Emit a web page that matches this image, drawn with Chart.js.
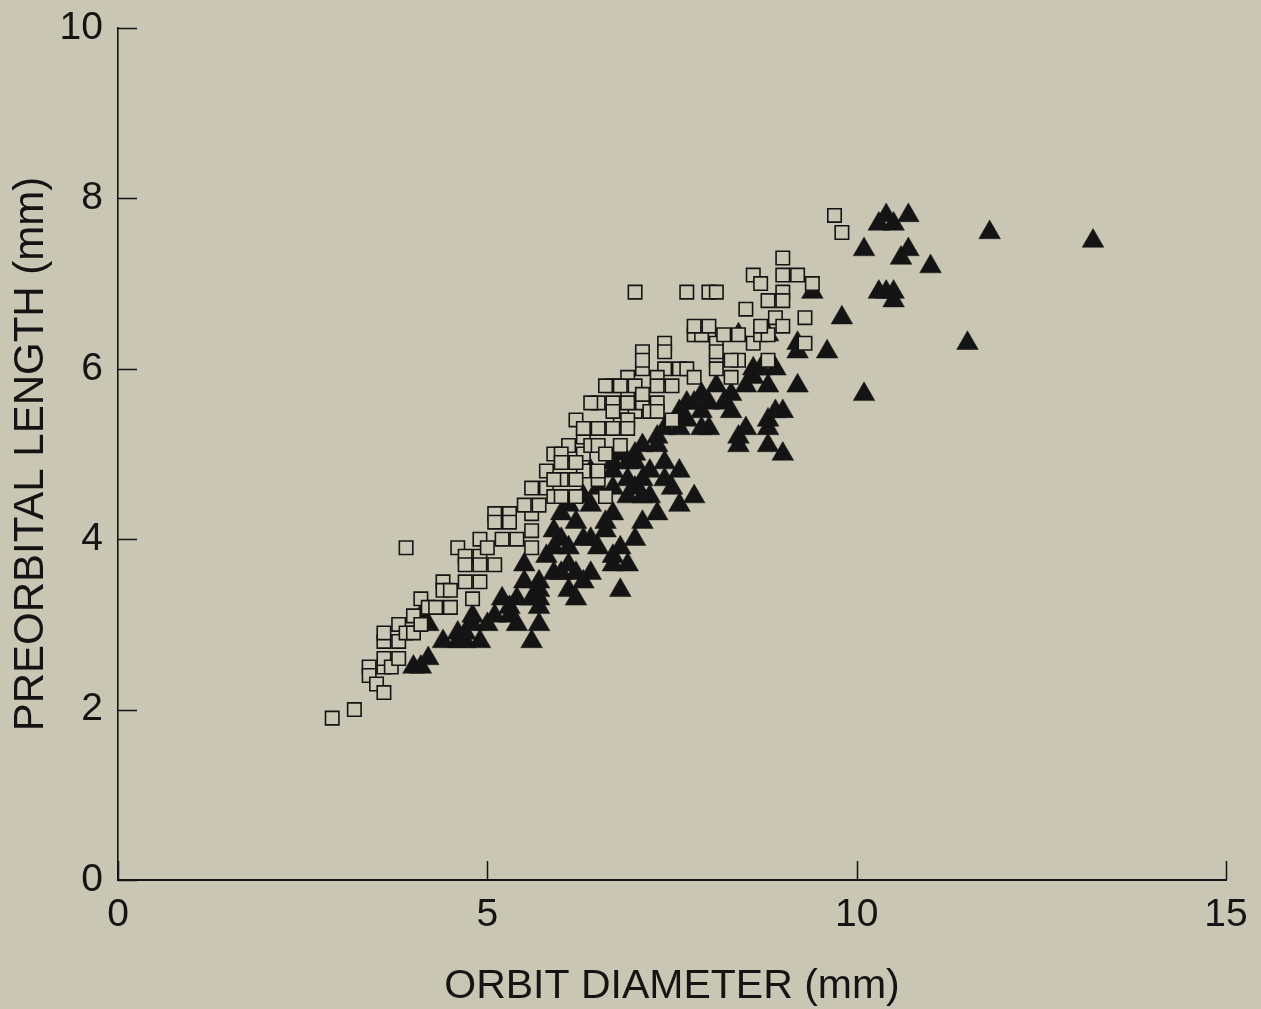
<!DOCTYPE html>
<html><head><meta charset="utf-8">
<script src="https://cdn.jsdelivr.net/npm/chart.js@4.4.1/dist/chart.umd.min.js"></script>
<style>
html,body{margin:0;padding:0;background:#c9c6b3;}
#wrap{position:relative;width:1261px;height:1009px;}
</style></head><body>
<div id="wrap"><canvas id="c" width="1261" height="1009"></canvas></div>
<script>
const xTicks = [0, 5, 10, 15];
const yTicks = [0, 2, 4, 6, 8, 10];
const xTitle = 'ORBIT DIAMETER (mm)';
const yTitle = 'PREORBITAL LENGTH (mm)';

// open squares
const squareX = [2.9,3.2,3.4,3.4,3.5,3.6,3.6,3.6,3.6,3.6,3.7,3.8,3.8,3.8,3.9,3.9,4.0,4.0,4.1,4.1,4.2,4.3,4.4,4.4,4.5,4.5,4.6,4.7,4.7,4.7,4.8,4.9,4.9,4.9,4.9,5.0,5.1,5.1,5.1,5.2,5.3,5.3,5.4,5.6,5.6,5.6,5.6,5.8,5.9,5.8,6.0,5.9,6.1,6.1,6.2,6.3,6.3,6.3,6.5,6.6,6.5,6.7,6.7,6.8,6.4,6.6,6.8,7.0,7.1,6.9,7.1,7.1,7.4,7.4,7.4,7.8,8.0,8.1,8.1,8.1,8.4,8.6,8.8,7.6,7.7,7.8,6.9,7.3,7.0,7.1,7.3,7.5,7.3,6.9,6.7,6.9,7.2,7.3,7.5,6.3,6.5,6.7,6.9,6.5,6.6,6.0,6.0,6.2,6.5,5.9,6.2,6.0,6.2,8.7,8.8,8.2,7.9,7.0,7.7,8.0,8.1,9.0,8.6,8.7,9.0,9.2,9.4,9.0,8.8,9.0,8.5,8.9,9.3,8.7,9.0,7.8,8.0,8.4,8.1,8.3,9.3,7.1,8.3,9.7,9.8,6.6,6.8,6.4,5.5,5.7];
const squareY = [1.9,2.0,2.5,2.4,2.3,2.2,2.5,2.6,2.8,2.9,2.5,2.6,3.0,2.8,2.9,3.9,2.9,3.1,3.0,3.3,3.2,3.2,3.5,3.4,3.4,3.2,3.9,3.8,3.5,3.7,3.3,4.0,3.8,3.7,3.5,3.9,4.3,4.2,3.7,4.0,4.3,4.2,4.0,4.3,4.1,3.9,4.6,4.6,4.5,4.8,4.7,5.0,5.1,4.9,5.4,5.2,5.0,4.8,4.7,4.5,5.6,5.6,5.8,5.4,5.1,5.3,5.1,5.5,5.6,5.7,6.2,6.0,6.3,6.2,6.0,6.4,6.4,6.3,6.1,6.0,6.1,6.3,6.1,6.0,6.0,5.9,5.9,5.9,5.8,5.7,5.8,5.8,5.6,5.6,5.5,5.4,5.5,5.5,5.4,5.3,5.3,5.3,5.3,5.1,5.0,5.0,4.9,4.9,4.8,4.7,4.7,4.5,4.5,6.4,6.4,6.4,6.4,6.9,6.9,6.9,6.9,7.3,7.1,7.0,7.1,7.1,7.0,6.9,6.8,6.8,6.7,6.6,6.6,6.5,6.5,6.5,6.5,6.4,6.2,6.1,6.3,6.1,5.9,7.8,7.6,5.8,5.8,5.6,4.4,4.4];

// filled triangles
const triangleX = [10.4,10.7,10.3,10.5,11.8,13.2,10.1,10.7,10.6,11.0,10.3,10.4,10.5,10.5,9.4,9.8,11.5,9.2,9.2,9.6,9.2,10.1,9.0,8.4,8.8,8.9,8.6,8.8,8.6,8.5,8.3,7.9,7.8,8.1,8.8,8.3,8.5,8.8,7.9,7.7,8.0,7.4,7.3,8.7,8.9,9.0,8.8,8.4,8.4,8.2,8.0,7.7,7.6,7.6,7.9,7.3,7.1,7.0,7.4,7.2,7.6,7.4,7.5,7.8,7.6,7.2,7.3,7.1,7.1,7.0,6.9,6.7,6.6,6.8,6.7,6.2,6.0,6.3,6.5,6.4,6.1,5.9,6.7,6.9,6.9,6.4,6.5,6.1,6.3,7.0,7.1,7.0,6.7,6.6,6.4,6.7,6.9,6.8,6.2,6.1,6.3,6.0,5.9,5.9,6.1,5.7,5.7,5.5,5.4,5.3,5.1,5.7,5.7,4.8,4.0,4.1,4.2,4.4,4.6,4.7,4.9,4.1,4.2,4.6,4.7,4.8,5.0,5.4,5.6,5.3,5.6,5.7,6.2,6.8,6.7,6.0,6.4,5.2,5.5,5.8];
const triangleY = [7.8,7.8,7.7,7.7,7.6,7.5,7.4,7.4,7.3,7.2,6.9,6.9,6.9,6.8,6.9,6.6,6.3,6.3,6.2,6.2,5.8,5.7,5.5,6.4,6.4,6.0,6.0,5.8,5.9,5.8,5.7,5.7,5.6,5.8,5.4,5.5,5.3,5.3,5.5,5.4,5.3,5.3,5.2,6.0,5.5,5.0,5.1,5.2,5.1,5.6,5.6,5.6,5.5,5.3,5.3,5.1,5.1,5.0,4.9,4.8,4.8,4.7,4.6,4.5,4.4,4.5,4.3,4.5,4.2,4.0,4.5,4.3,4.1,3.9,3.7,4.2,4.0,4.0,3.9,3.6,3.7,3.6,4.8,4.7,4.9,4.8,4.6,4.4,4.5,4.9,4.7,4.6,4.6,4.2,4.0,3.8,3.7,3.4,3.6,3.4,3.5,3.6,3.9,4.1,3.9,3.5,3.3,3.5,3.3,3.1,3.1,3.2,3.0,3.0,2.5,2.5,2.6,2.8,2.8,2.8,2.8,3.1,3.0,2.9,2.9,3.1,3.0,3.0,2.8,3.2,3.3,3.4,3.3,5.0,4.9,4.3,4.4,3.3,3.7,3.8];

const BG = '#c9c6b3';
const INK = '#141414';
const FONT = 'Liberation Sans, Arial, sans-serif';

const toPts = (xs, ys) => xs.map((x, i) => ({x: x, y: ys[i]}));

const bgPlugin = {
  id: 'bg',
  beforeDraw(chart) {
    const ctx = chart.ctx;
    ctx.save();
    ctx.fillStyle = BG;
    ctx.fillRect(0, 0, chart.width, chart.height);
    ctx.restore();
  }
};

const inwardTicks = {
  id: 'inwardTicks',
  beforeDatasetsDraw(chart) {
    const ctx = chart.ctx;
    const xs = chart.scales.x, ys = chart.scales.y;
    const len = 19;
    ctx.save();
    ctx.strokeStyle = INK;
    ctx.lineWidth = 1.5;
    ctx.beginPath();
    xs.ticks.forEach(t => {
      const px = Math.round(xs.getPixelForValue(t.value)) + 0.5;
      ctx.moveTo(px, ys.bottom);
      ctx.lineTo(px, ys.bottom - len);
    });
    ys.ticks.forEach(t => {
      const py = Math.round(ys.getPixelForValue(t.value)) + 0.5;
      ctx.moveTo(xs.left, py);
      ctx.lineTo(xs.left + len, py);
    });
    ctx.stroke();
    ctx.restore();
  }
};

new Chart(document.getElementById('c'), {
  type: 'scatter',
  data: {
    datasets: [
      {
        label: 'squares',
        data: toPts(squareX, squareY),
        pointStyle: 'rect',
        pointRadius: 9.5,
        pointBackgroundColor: BG,
        pointBorderColor: INK,
        pointBorderWidth: 1.6
      },
      {
        label: 'triangles',
        data: toPts(triangleX, triangleY),
        pointStyle: 'triangle',
        pointRadius: 12.5,
        pointBackgroundColor: INK,
        pointBorderColor: INK,
        pointBorderWidth: 0.5
      }
    ]
  },
  options: {
    responsive: false,
    animation: false,
    devicePixelRatio: 1,
    events: [],
    layout: {padding: {left: 0, right: 35, top: 28, bottom: 0}},
    plugins: {legend: {display: false}, tooltip: {enabled: false}},
    scales: {
      x: {
        type: 'linear', min: 0, max: 15,
        afterBuildTicks: s => { s.ticks = xTicks.map(v => ({value: v})); },
        afterFit: s => { s.height = 129; s.paddingLeft = 0; s.paddingRight = 0; },
        grid: {display: false, drawTicks: false},
        border: {display: true, color: INK, width: 2},
        ticks: {color: INK, padding: 12, font: {family: FONT, size: 39}, maxRotation: 0},
        title: {display: true, text: xTitle, color: INK, padding: {top: 0, bottom: 0},
                font: {family: FONT, size: 41, lineHeight: 1.1}}
      },
      y: {
        type: 'linear', min: 0, max: 10,
        afterBuildTicks: s => { s.ticks = yTicks.map(v => ({value: v})); },
        afterFit: s => { s.width = 118; s.paddingTop = 0; s.paddingBottom = 0; },
        grid: {display: false, drawTicks: false},
        border: {display: true, color: INK, width: 1.6},
        ticks: {color: INK, padding: 15, font: {family: FONT, size: 39}},
        title: {display: true, text: yTitle, color: INK, padding: {top: 8, bottom: 0},
                font: {family: FONT, size: 42, lineHeight: 1.1}}
      }
    }
  },
  plugins: [bgPlugin, inwardTicks]
});
</script>
</body></html>
